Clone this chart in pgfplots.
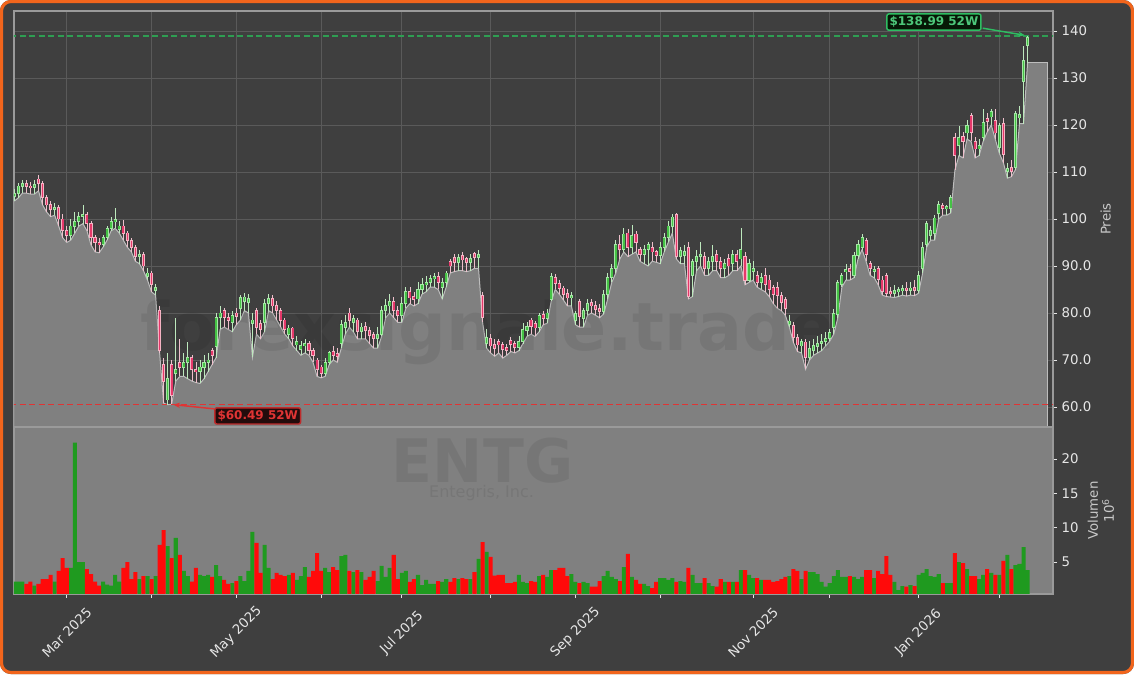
\documentclass[border=0pt]{standalone}
\usepackage{pgfplots}
\pgfplotsset{compat=1.18}
\usepackage{pgfplotstable}
\usepackage{fontspec}
\setmainfont{DejaVu Sans}
\usetikzlibrary{arrows.meta}

\definecolor{bgdark}{HTML}{3F3F3F}
\definecolor{frameor}{HTML}{F2651C}
\definecolor{areagray}{HTML}{808080}
\definecolor{arealine}{HTML}{BDBDBD}
\definecolor{gridc}{HTML}{5A5A5A}
\definecolor{spine}{HTML}{9A9A9A}
\definecolor{tickc}{HTML}{E6E6E6}
\definecolor{labc}{HTML}{C8C8C8}
\definecolor{upedge}{HTML}{A4E6A4}
\definecolor{upfill}{HTML}{45C245}
\definecolor{dnedge}{HTML}{F5B3C3}
\definecolor{dnfill}{HTML}{E5386A}
\definecolor{upwick}{HTML}{BDE9BD}
\definecolor{dnwick}{HTML}{EEC0CC}
\definecolor{volup}{HTML}{1F9A1F}
\definecolor{voldn}{HTML}{FF0A0A}
\definecolor{hiline}{HTML}{2EBD62}
\definecolor{hidash}{HTML}{2E9E52}
\definecolor{loline}{HTML}{E03434}

% daily bars: index, open, high, low, close, volume (millions)
\pgfplotstableread{
i o h l c v
0 104.8 106.3 103.8 105.5 2.14
1 105.5 107.6 104.5 107.0 2.14
2 107.0 108.2 105.5 107.5 2.14
3 107.5 108.3 105.5 107.0 1.80
4 107.0 107.8 105.3 106.8 2.14
5 106.8 108.3 105.3 107.3 1.55
6 108.5 109.4 106.0 107.5 1.80
7 107.5 108.0 103.0 104.5 2.52
8 104.5 105.0 101.5 103.0 2.52
9 103.0 103.8 100.5 102.0 3.11
10 102.0 103.5 100.8 102.5 2.14
11 102.5 103.0 98.5 100.0 3.69
12 100.0 101.0 96.0 97.5 5.58
13 97.5 98.5 95.0 96.5 4.13
14 96.5 100.0 95.5 98.5 4.13
15 98.5 101.5 97.0 99.5 22.4
16 99.5 101.5 98.5 100.5 5.0
17 100.5 103.0 99.0 101.0 5.0
18 101.0 101.5 97.5 99.0 3.98
19 99.0 99.5 94.5 96.0 3.25
20 96.0 96.5 93.0 95.0 2.14
21 95.0 96.0 92.8 94.5 1.55
22 94.5 96.5 94.0 96.0 2.14
23 96.0 98.5 95.5 98.0 1.70
24 98.0 100.5 97.5 99.5 1.55
25 99.5 102.3 98.0 99.8 3.11
26 97.8 99.5 97.0 98.5 2.14
27 98.5 99.8 95.5 97.0 4.13
28 97.0 97.5 94.0 95.5 5.0
29 95.5 96.0 93.0 94.0 2.52
30 94.0 94.5 91.0 92.0 3.54
31 92.0 93.5 90.5 92.5 2.52
32 92.5 93.0 89.0 90.0 2.96
33 87.8 89.5 87.0 88.5 2.96
34 88.5 89.0 84.5 86.0 2.52
35 84.8 86.2 83.8 85.5 2.96
36 80.6 81.5 71.5 72.0 7.48
37 69.0 70.5 60.8 65.5 9.66
38 61.5 71.5 60.49 66.0 7.33
39 69.0 70.0 60.6 62.5 5.58
40 67.2 79.0 65.5 68.0 8.50
41 69.5 74.5 66.5 68.5 6.02
42 68.5 71.5 66.5 69.5 3.69
43 69.5 73.8 66.0 70.5 2.96
44 70.5 71.0 65.5 68.0 2.14
45 68.0 69.5 65.2 67.5 4.13
46 67.5 70.0 65.0 68.5 3.11
47 68.5 71.0 66.0 69.5 2.96
48 69.5 71.5 67.5 70.0 3.11
49 72.0 72.5 69.0 71.0 2.82
50 72.8 80.0 70.5 79.0 4.56
51 79.0 81.5 76.5 80.0 2.96
52 80.5 81.0 77.0 79.0 2.38
53 79.0 80.0 76.5 78.5 1.80
54 78.0 80.5 76.0 79.5 1.94
55 80.0 81.0 77.5 79.3 2.23
56 81.0 83.8 78.5 83.2 2.96
57 82.5 84.2 80.5 83.4 2.23
58 82.3 84.0 80.0 83.0 3.69
59 77.8 80.0 70.6 78.5 9.37
60 80.5 81.0 75.5 77.0 7.77
61 77.8 78.5 74.5 76.5 3.40
62 78.0 83.0 76.0 82.0 7.48
63 82.0 84.0 80.5 83.0 4.13
64 83.0 83.8 80.0 81.5 2.52
65 81.5 82.5 78.5 80.5 3.40
66 80.5 81.0 77.0 78.5 3.11
67 78.5 79.0 75.5 76.5 2.96
68 75.5 77.5 74.5 76.8 3.11
69 76.8 77.0 73.0 74.5 3.40
70 73.2 75.0 72.0 74.0 2.38
71 72.3 74.0 71.0 73.0 2.96
72 73.0 74.5 71.5 73.5 4.27
73 73.5 74.0 71.0 72.0 2.82
74 72.0 72.5 69.5 71.0 3.69
75 70.0 70.5 66.5 68.0 6.31
76 68.5 69.0 66.2 67.2 3.69
77 67.2 70.5 66.5 69.5 4.13
78 69.5 72.0 69.0 71.5 3.54
79 71.8 73.0 70.0 71.0 4.27
80 71.3 72.5 69.5 70.8 3.83
81 73.5 78.5 72.5 77.5 5.87
82 77.0 79.5 75.5 78.0 6.02
83 80.0 81.0 77.0 78.5 3.69
84 78.0 79.5 76.0 78.8 3.54
85 78.5 79.0 74.5 76.0 3.83
86 76.0 77.8 74.5 77.0 3.54
87 77.2 78.0 74.5 76.2 2.38
88 76.2 77.0 73.5 75.2 2.82
89 75.5 76.0 72.5 74.5 3.69
90 74.5 77.0 72.5 75.5 2.23
91 75.5 81.5 75.0 80.5 4.42
92 80.5 83.0 79.0 81.5 2.82
93 81.5 84.0 80.0 82.5 4.13
94 82.5 83.5 79.0 80.5 6.02
95 80.5 81.5 78.0 79.5 2.52
96 79.5 83.5 78.0 82.0 3.40
97 82.0 85.5 81.0 84.5 3.69
98 84.5 85.5 82.0 83.2 2.09
99 83.5 84.5 81.5 82.8 2.52
100 83.0 86.5 82.0 85.0 3.11
101 85.0 87.5 84.0 86.0 1.65
102 86.0 87.8 84.5 86.5 2.38
103 86.5 88.0 85.5 87.3 1.80
104 87.3 88.5 85.5 87.8 1.80
105 87.8 88.7 85.0 86.5 2.23
106 85.5 87.5 83.0 86.5 2.09
107 86.5 89.0 85.5 88.5 2.52
108 91.0 91.5 88.5 90.0 2.09
109 91.8 92.5 88.8 90.8 2.67
110 90.8 92.5 89.0 91.8 2.52
111 92.2 93.0 89.0 91.3 2.67
112 91.6 92.0 88.8 90.8 2.52
113 90.8 92.5 89.0 91.5 2.52
114 92.6 93.0 89.5 91.8 3.54
115 91.8 93.5 89.5 92.5 5.44
116 83.8 84.5 78.0 79.0 7.91
117 73.5 76.5 72.5 74.8 6.46
118 74.5 75.5 71.5 73.0 5.73
119 73.3 74.5 70.8 72.5 3.03
120 74.0 74.5 71.5 73.2 3.11
121 73.2 73.8 70.4 72.3 3.11
122 72.6 73.5 71.0 72.0 1.94
123 74.2 74.8 71.8 73.3 1.94
124 73.5 74.0 71.5 72.6 2.09
125 72.6 75.0 72.0 74.0 3.11
126 74.0 77.8 73.5 76.5 2.09
127 76.3 78.0 75.0 77.2 1.94
128 78.5 79.0 75.5 77.2 2.23
129 77.8 78.3 75.0 76.8 2.09
130 77.0 80.0 76.0 79.5 2.96
131 79.6 80.5 77.5 78.8 3.11
132 78.8 80.8 77.8 80.0 2.82
133 82.8 88.5 82.5 87.7 3.83
134 87.5 88.3 85.0 86.2 3.83
135 86.3 87.0 84.0 85.2 4.13
136 85.3 85.8 82.8 84.0 4.13
137 84.2 85.0 81.5 83.2 2.96
138 83.2 84.5 81.5 83.8 3.25
139 78.5 80.5 77.5 79.8 2.09
140 82.5 83.0 77.0 79.3 1.94
141 78.8 81.0 77.0 80.5 2.09
142 80.5 83.0 79.5 82.0 1.94
143 82.2 83.0 80.0 81.5 1.41
144 81.5 82.5 79.5 80.8 1.41
145 81.0 82.0 79.0 80.3 2.23
146 80.3 84.8 79.8 84.0 2.96
147 84.0 88.5 83.0 87.5 3.69
148 87.5 90.5 86.5 89.5 2.82
149 89.5 95.5 88.5 94.5 2.52
150 94.5 96.5 91.5 93.5 2.23
151 93.5 98.0 93.0 96.8 4.27
152 97.0 97.8 92.0 94.0 6.17
153 94.0 98.7 92.5 96.5 2.82
154 96.8 97.5 93.0 95.0 2.38
155 93.5 94.0 91.0 92.5 1.80
156 92.5 94.5 90.5 93.5 1.80
157 93.5 95.0 90.0 94.5 1.50
158 94.0 95.0 91.0 93.0 1.21
159 93.0 93.5 90.8 92.2 2.09
160 92.2 95.0 90.5 94.0 2.67
161 94.0 97.0 93.0 96.0 2.67
162 96.0 99.5 95.0 98.5 2.38
163 98.5 101.0 97.0 100.4 2.67
164 101.0 101.3 91.5 92.0 2.09
165 92.0 94.0 90.5 93.3 2.23
166 92.2 94.5 90.5 93.0 2.09
167 94.0 95.0 83.0 83.5 4.13
168 88.0 91.5 83.5 91.0 3.11
169 91.0 93.5 89.0 92.0 1.94
170 92.0 95.0 90.0 92.5 1.94
171 92.0 93.0 88.0 89.5 2.67
172 89.5 92.0 88.0 91.0 1.94
173 91.0 94.5 89.0 92.0 1.50
174 92.5 93.5 89.0 91.0 1.41
175 91.0 92.0 87.5 89.5 2.52
176 89.5 91.5 87.5 90.5 2.09
177 91.5 92.5 88.0 90.0 2.09
178 90.5 93.5 89.0 92.5 2.09
179 92.5 93.5 89.0 91.0 2.09
180 91.5 98.0 90.0 93.5 3.83
181 92.0 93.0 86.0 87.0 3.83
182 87.0 91.5 86.5 90.5 3.11
183 88.8 91.0 87.0 89.5 2.67
184 88.0 89.0 85.5 86.5 2.67
185 86.5 88.5 85.0 87.5 2.38
186 88.0 89.5 84.5 86.0 2.38
187 87.0 88.0 83.5 85.0 2.38
188 85.5 86.0 82.0 84.0 2.09
189 85.5 86.5 81.0 83.8 2.23
190 83.8 84.5 80.5 82.2 2.52
191 82.8 83.5 79.5 81.0 2.82
192 77.6 79.5 77.0 78.3 2.96
193 77.4 78.0 73.7 74.8 3.98
194 74.8 75.5 71.8 73.2 3.69
195 73.0 74.5 71.5 74.0 2.52
196 73.8 74.5 68.0 70.5 3.69
197 70.5 74.0 70.0 72.5 3.54
198 72.0 74.5 71.0 73.0 3.54
199 72.8 75.0 71.5 73.5 3.25
200 73.5 75.5 72.0 74.0 2.09
201 74.0 76.0 73.0 74.6 1.41
202 74.6 76.5 74.0 75.8 1.94
203 77.0 80.8 75.5 79.8 2.96
204 79.6 87.0 79.0 86.4 3.83
205 86.0 88.5 85.5 88.0 2.82
206 88.8 90.5 87.0 89.2 2.82
207 89.5 90.5 87.0 88.8 2.96
208 88.0 93.0 87.5 92.3 2.82
209 92.3 95.5 91.5 94.5 2.52
210 94.0 96.8 93.5 96.0 2.82
211 95.5 96.0 91.0 92.5 3.83
212 90.5 91.0 88.0 89.4 3.83
213 88.8 90.0 87.5 89.3 2.67
214 89.4 90.0 86.0 87.2 3.69
215 87.0 87.8 83.8 84.5 3.25
216 88.0 88.5 83.5 84.2 5.87
217 84.6 85.5 83.4 84.1 3.11
218 84.2 86.0 83.3 84.8 2.09
219 84.5 85.5 83.5 84.9 0.92
220 84.7 86.0 83.8 85.2 1.50
221 85.3 86.5 83.6 84.8 1.41
222 84.8 86.5 83.8 85.3 1.65
223 85.5 87.0 83.7 84.8 1.50
224 84.8 89.0 84.2 88.0 3.11
225 89.5 95.0 88.5 94.0 3.40
226 94.5 99.5 94.0 99.0 3.98
227 96.5 98.5 95.5 97.5 2.96
228 97.0 100.8 95.5 100.2 2.82
229 101.2 103.8 100.0 103.0 3.25
230 102.8 103.3 100.8 102.2 1.94
231 102.2 103.0 100.8 102.6 1.94
232 102.2 105.0 101.3 104.5 1.94
233 117.4 118.4 110.4 113.6 6.31
234 115.7 119.8 113.5 117.4 5.0
235 117.5 118.5 113.0 116.5 4.85
236 118.3 121.0 117.0 119.8 3.98
237 122.1 122.5 116.5 118.5 2.96
238 116.4 117.5 113.0 114.9 2.96
239 114.9 117.0 113.5 115.7 2.52
240 117.4 123.4 116.5 120.6 3.11
241 121.3 122.5 118.5 120.8 3.98
242 121.7 123.5 120.0 122.8 3.40
243 121.0 123.5 117.0 118.3 3.11
244 115.3 120.5 114.0 119.8 3.11
245 120.4 121.5 112.0 113.8 5.15
246 110.2 112.0 108.7 110.8 6.02
247 111.0 112.5 109.0 110.2 3.98
248 111.0 123.0 110.5 122.5 4.56
249 121.5 124.0 120.3 122.3 4.71
250 129.2 136.8 120.3 133.8 7.18
251 137.0 138.99 133.2 138.6 3.83
}\ohlc

\pgfplotsset{
  up/.style={restrict expr to domain={\thisrow{c}-\thisrow{o}}{0:1000}},
  dn/.style={restrict expr to domain={\thisrow{c}-\thisrow{o}}{-1000:0}},
  ebar/.style 2 args={draw=none, mark=none, forget plot,
    /pgfplots/error bars/y dir=both,
    /pgfplots/error bars/y explicit,
    /pgfplots/error bars/error mark=none,
    /pgfplots/error bars/error bar style={draw=#1, line width=#2}},
  common/.style={
    scale only axis, width=779.25pt,
    xmin=-0.07, xmax=257.3,
    xtick={13,34,55,76,96,118,139,160,183,202,224,244},
    ytick pos=right, yticklabel pos=right,
    tick align=outside, major tick length=3pt,
    tick style={draw=tickc, line width=0.6pt},
    axis line style={draw=spine, line width=0.8pt},
    tick label style={color=tickc, font=\fontsize{10}{12}\selectfont},
    ylabel style={color=labc, font=\fontsize{10}{12}\selectfont},
    /pgf/number format/assume math mode=true,
  },
}

\begin{document}
\begin{tikzpicture}
\useasboundingbox (0,0) rectangle (850.5pt,505.5pt);
\fill[white] (0,0) rectangle (850.5pt,505.5pt);
\fill[bgdark, rounded corners=8pt] (0,0) rectangle (850.5pt,505.5pt);
\draw[frameor, line width=2.3pt, rounded corners=7pt] (1.15pt,1.15pt) rectangle (849.35pt,504.35pt);

% price panel
\begin{axis}[common,
  at={(10.5pt,185.25pt)}, anchor=south west, height=312pt,
  ymin=55.74, ymax=144.26,
  xticklabels={}, xtick style={draw=none},
  xmajorgrids, ymajorgrids, grid style={gridc, line width=0.6pt},
  ytick={60,70,...,140},
  yticklabels={60.0,70.0,80.0,90.0,100,110,120,130,140},
  ylabel={Preis},
]
\addplot[fill=areagray, draw=none, forget plot] table[x=i, y=l] {\ohlc} \closedcycle;
\addplot[fill=areagray, draw=none, forget plot] coordinates {(250.97,133.2) (255.9,133.2)} \closedcycle;
\addplot[arealine, line width=0.75pt, forget plot] table[x=i, y=l] {\ohlc};
\addplot[arealine, line width=0.75pt, forget plot] coordinates {(251,133.2) (255.9,133.2) (255.9,50)};

\node[anchor=base, font=\fontsize{50}{60}\selectfont\bfseries, text=black, text opacity=0.07]
  at (rel axis cs:0.456,0.185) {forexsignale.trade};

\addplot[draw=hidash, line width=1.2pt, dash pattern=on 4.5pt off 2.6pt, forget plot] coordinates {(-1,138.99) (258,138.99)};
\addplot[draw=loline, line width=1.1pt, dash pattern=on 4.5pt off 2.6pt, forget plot] coordinates {(-1,60.49) (258,60.49)};

% wicks
\addplot[up, ebar={upwick}{0.6pt}] table[x=i, y expr={(\thisrow{h}+\thisrow{l})/2}, y error expr={(\thisrow{h}-\thisrow{l})/2}] {\ohlc};
\addplot[dn, ebar={dnwick}{0.6pt}] table[x=i, y expr={(\thisrow{h}+\thisrow{l})/2}, y error expr={(\thisrow{h}-\thisrow{l})/2}] {\ohlc};
% bodies
\addplot[up, ebar={upedge}{2.3pt}] table[x=i, y expr={(\thisrow{o}+\thisrow{c})/2}, y error expr={abs(\thisrow{c}-\thisrow{o})/2+0.1}] {\ohlc};
\addplot[dn, ebar={dnedge}{2.3pt}] table[x=i, y expr={(\thisrow{o}+\thisrow{c})/2}, y error expr={abs(\thisrow{c}-\thisrow{o})/2+0.1}] {\ohlc};
\addplot[up, ebar={upfill}{1.2pt}] table[x=i, y expr={(\thisrow{o}+\thisrow{c})/2}, y error expr={max(abs(\thisrow{c}-\thisrow{o})/2-0.08,0.02)}] {\ohlc};
\addplot[dn, ebar={dnfill}{1.2pt}] table[x=i, y expr={(\thisrow{o}+\thisrow{c})/2}, y error expr={max(abs(\thisrow{c}-\thisrow{o})/2-0.08,0.02)}] {\ohlc};

% 52-week annotations
\node[fill=black!92!green, fill opacity=0.9, text opacity=1, draw=hiline, line width=1.1pt, rounded corners=1.5pt,
  inner sep=2pt, text=hiline!85!white, font=\fontsize{9}{10}\selectfont\bfseries]
  at (axis cs:227.8,141.9) {\$138.99 52W};
\draw[-{Stealth[length=5pt,width=4pt]}, hiline, line width=1.1pt] (axis cs:239.9,140.6) -- (axis cs:250.3,139.1);
\node[fill=black!90!red, fill opacity=0.9, text opacity=1, draw=loline!85!black, line width=1.1pt, rounded corners=1.5pt,
  inner sep=2pt, text=loline, font=\fontsize{9}{10}\selectfont\bfseries]
  at (axis cs:60.3,58.1) {\$60.49 52W};
\draw[-{Stealth[length=5pt,width=4pt]}, loline, line width=1.1pt] (axis cs:49.5,59.6) -- (axis cs:39.4,60.5);
\end{axis}

% volume panel
\begin{axis}[common,
  at={(10.5pt,60pt)}, anchor=south west, height=125.25pt,
  ymin=0.34, ymax=24.66,
  axis background/.style={fill=areagray},
  xtick pos=bottom,
  xticklabels={Mar 2025,{},May 2025,{},Jul 2025,{},Sep 2025,{},Nov 2025,{},Jan 2026,{}},
  xticklabel style={yshift=-26pt, rotate=45, anchor=center},
  ytick={5,10,15,20}, yticklabels={5,10,15,20},
  ylabel={Volumen\\10\textsuperscript{6}}, ylabel style={align=center},
]
\node[anchor=base, font=\fontsize{45}{54}\selectfont\bfseries, text=black, text opacity=0.07]
  at (rel axis cs:0.451,0.665) {ENTG};
\node[anchor=base, font=\fontsize{12}{14}\selectfont, text=black, text opacity=0.07]
  at (rel axis cs:0.45,0.575) {Entegris, Inc.};
\addplot[up, ybar, bar width=1, bar shift=0pt, fill=volup, draw=none, forget plot] table[x=i, y=v] {\ohlc};
\addplot[dn, ybar, bar width=1, bar shift=0pt, fill=voldn, draw=none, forget plot] table[x=i, y=v] {\ohlc};
\end{axis}
\end{tikzpicture}
\end{document}
